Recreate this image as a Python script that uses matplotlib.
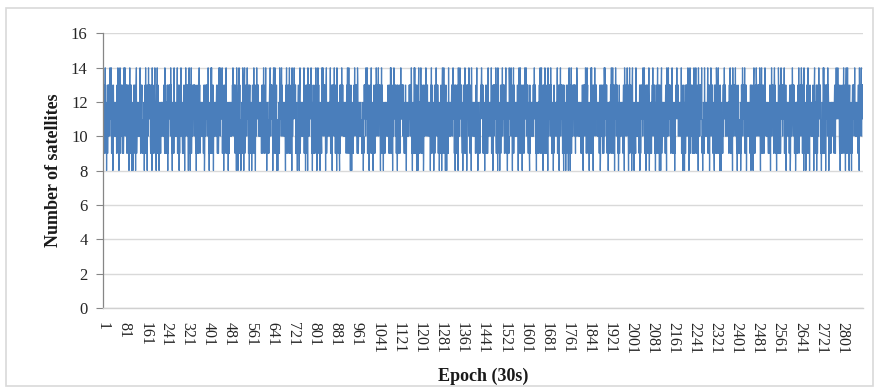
import matplotlib
matplotlib.use("Agg")
import matplotlib.pyplot as plt
from matplotlib.patches import Rectangle

plt.rcParams["path.simplify"] = False

# Number of visible satellites per 30 s epoch (hex digits: 8..e -> 8..14),
# one row per 80 epochs.
sat_rows = [
    "9cdab9dceb a9c8b9d9ba dbdcdaebdc be9dacb8cd bcabcacbab c9bdace9bc 8cdbe9bdac dab9cdb9ae",
    "cdbeadcdbd 9cdab9dc8b ce9dab9d8b a9c8b9d9ba dab8cde9ac bcacbabcab ec9bdacd9b 9a9b9c8a9d",
    "be9dacb8cd daebdcdbda 9cdab8ecab c9bdace9bc a8cdbe9bda 9b8c9a9b9c acbcabcbac dab9edb9ac",
    "c9bda8d9bc dbdcdaebdc 9a8b9c9a9e bcabcacbab ce9dab9d8b 9cdabedcab a9c9b9d9b8 cdbeadcdbd",
    "dab8cde9ac 8cdbe9bdac bcdbdadcdb a9c8b9d9ba c9bdecd9bc bcabcacbab 9cda89dcab dbdcdadbec",
    "9a8b9c9a9e ce9dab9d8b acbcabcbac dab9cdb9ae cdbeadcdbd be9dacb8cd c9bdace9bc 9b9c8a9b9c",
    "bcabcacbab dbecdadbdc 9cdab8ecab a8cdbe9bda 9a8b9c9a9e dab8cde9ac cdbdadedbd c9bd8cd9bc",
    "a9c8b9d9ba be9dacb8cd daebdcdbda bcacbabcab 9cdab9dceb c9bdace9bc 8b9c9a9b9c cdbeadcdbd",
    "dab8cde9ac ce9dab9d8b 9a8b9c9a9e dbdcdaebdc acbcabcbac a8cdbe9bda c9bdace9bc 9cdab8ecab",
    "cdbdedcdbd 9b9c9a8b9c dab8cde9ac bcabcacbab be9dacb8cd 9cdab8ecab dadbdcdbea a9c8b9d9ba",
    "c9bdace9bc 8cdbe9bdac 9a8b9c9a9e cdbeadcdbd dab8cde9ac acbcabcbac ce9dab9d8b dbdcdaebdc",
    "9cdab8ecab a9c9b98d9b dadbecdbda bcacbabcab c9bdace9bc be9dacb8cd 9b8c9a9b9c cdbeadcdbd",
    "dab9edb9ac bcabcacbab 9a9b9c8a9d dbdcdaebdc ce9dab9d8b c9bdace9bc a9c8b9d9ba 9cdabedcab",
    "cdbeadcdbd a8cdbe9bda 9b8c9a9b9c acbcabcbac dab9cdb9ae be9dacb8cd daebdcdbda c9bda8d9bc",
    "9cdab9dceb bcdbdadcdb a9c9b9d9b8 bcacbabcab dbdcdadbec 9a8b9c9a9e ce9dab9d8b dab8cde9ac",
    "c9bdecd9bc 9cda89dcab cdbeadcdbd acbcabcbac 8cdbe9bdac a9c8b9d9ba dbecdadbdc 9b9c8a9b9c",
    "dab8cde9ac be9dacb8cd 9a8b9c9a9e bcabcacbab cdbdadedbd c9bd8cd9bc 9cdab8ecab daebdcdbda",
    "a9c8b9d9ba ce9dab9d8b dbdcdaebdc 9cdab8ecab bcacbabcab c9bdace9bc 8b9c9a9b9c cdbdedcdbd",
    "9b9c9a8b9c dab9cdb9ae acbcabcbac be9dacb8cd dadbdcdbea 9cdab8ecab a9c8b9d9ba cdbeadcdbd",
    "c9bdace9bc 9a8b9c9a9e dbdcdaebdc a8cdbe9bda bcabcacbab dab8cde9ac ce9dab9d8b 9cdab9dceb",
    "cdbeadcdbd a9c9b98d9b bcacbabcab dadbecdbda 9b8c9a9b9c c9bdace9bc be9dacb8cd dab9edb9ac",
    "9cdab8ecab dbdcdaebdc 9a9b9c8a9d acbcabcbac ce9dab9d8b cdbeadcdbd c9bda8d9bc a9c8b9d9ba",
    "dab8cde9ac 8cdbe9bdac bcdbdadcdb 9cdabedcab bcabcacbab a9c9b9d9b8 dbdcdadbec c9bdecd9bc",
    "9a8b9c9a9e be9dacb8cd cdbeadcdbd bcacbabcab 9cda89dcab dab9cdb9ae daebdcdbda 9b9c8a9b9c",
    "c9bdace9bc ce9dab9d8b dbecdadbdc a9c8b9d9ba acbcabcbac 9cdab8ecab cdbdadedbd a8cdbe9bda",
    "dab8cde9ac 9a8b9c9a9e bcabcacbab c9bd8cd9bc dbdcdaebdc be9dacb8cd 9cdab9dceb 8b9c9a9b9c",
    "cdbeadcdbd a9c8b9d9ba ce9dab9d8b dab8cde9ac bcacbabcab 9cdab8ecab daebdcdbda c9bdace9bc",
    "9b9c9a8b9c cdbdedcdbd acbcabcbac be9dacb8cd a9c8b9d9ba dbdcdaebdc 8cdbe9bdac dab9cdb9ae",
    "c9bdace9bc 9cdab8ecab dadbdcdbea 9a8b9c9a9e bcabcacbab ce9dab9d8b cdbeadcdbd a9c9b98d9b",
    "dab9edb9ac be9dacb8cd 9b8c9a9b9c dadbecdbda acbcabcbac c9bdace9bc 9cdab8ecab dbdcdaebdc",
    "a9c8b9d9ba 9a9b9c8a9d cdbeadcdbd ce9dab9d8b bcacbabcab c9bda8d9bc dab8cde9ac 9cdabedcab",
    "dbdcdadbec a8cdbe9bda 9cdab9dceb bcabcacbab a9c9b9d9b8 cdbeadcdbd c9bdecd9bc 9a8b9c9a9e",
    "dab9cdb9ae bcdbdadcdb ce9dab9d8b acbcabcbac 9cda89dcab dbecdadbdc 9b9c8a9b9c c9bdace9bc",
    "cdbdadedbd 9cdab8ecab a9c8b9d9ba be9dacb8cd bcacbabcab dab8cde9ac c9bd8cd9bc daebdcdbda",
    "9a8b9c9a9e ce9dab9d8b dbdcdaebdc 8b9c9a9b9c acbcabcbac 9cdab9dceb cdbdedcdbd a9c8b9d9ba",
    "c9bdace9bc dab8cde9ac be9dacb8cd 9b9c9a8b9c dadbdcdbea bcabcacbab 9cdab8ecab cdbeadcdbd",
]

n_epochs = 2880
x_tick_labels = [str(v) for v in range(1, 2802, 80)]
y_ticks = [0, 2, 4, 6, 8, 10, 12, 14, 16]

satellites = [int(ch, 16) for row in sat_rows for ch in row.replace(" ", "")]
epochs = list(range(1, len(satellites) + 1))

W, H = 879, 388
fig = plt.figure(figsize=(W / 100, H / 100), dpi=100, facecolor="white")

# outer chart border
fig.patches.append(Rectangle((6 / W, 1 - 386 / H), 867 / W, 378 / H,
                             transform=fig.transFigure, fill=False,
                             edgecolor="#d9d9d9", linewidth=1.2))

left, right, top, bottom = 103, 863, 33.3, 308
ax = fig.add_axes([left / W, 1 - bottom / H, (right - left) / W, (bottom - top) / H])

ax.plot(epochs, satellites, color="#4A7EBB", linewidth=0.9, solid_joinstyle="miter")

ax.set_xlim(0.5, n_epochs + 0.5)
ax.set_ylim(0, 16)
ax.set_yticks(y_ticks)
ax.set_yticklabels([str(v) for v in y_ticks], fontfamily="Liberation Serif",
                   fontsize=12, color="#262626")
ax.set_xticks(range(1, 2802, 80))
ax.set_xticklabels(x_tick_labels, rotation=270, fontfamily="Liberation Serif",
                   fontsize=11.5, color="#262626", ha="center", va="top")

ax.tick_params(axis="x", length=0, pad=10)
ax.tick_params(axis="y", length=5, width=0.8, color="#868686", pad=6)

ax.grid(axis="y", color="#d9d9d9", linewidth=1.0)
ax.set_axisbelow(True)
for side in ("top", "right"):
    ax.spines[side].set_visible(False)
ax.spines["left"].set_color("#868686")
ax.spines["left"].set_linewidth(0.9)
ax.spines["bottom"].set_color("#d0d0d0")
ax.spines["bottom"].set_linewidth(1.0)

fig.text((left + right) / 2 / W, 1 - 376 / H, "Epoch (30s)", ha="center", va="center",
         fontfamily="Liberation Serif", fontweight="bold", fontsize=13, color="#1a1a1a")
fig.text(54 / W, 1 - (top + bottom) / 2 / H, "Number of satellites", ha="center",
         va="center", rotation=90, fontfamily="Liberation Serif", fontweight="bold",
         fontsize=13, color="#1a1a1a")

fig.savefig("out.png", dpi=100, facecolor="white")
